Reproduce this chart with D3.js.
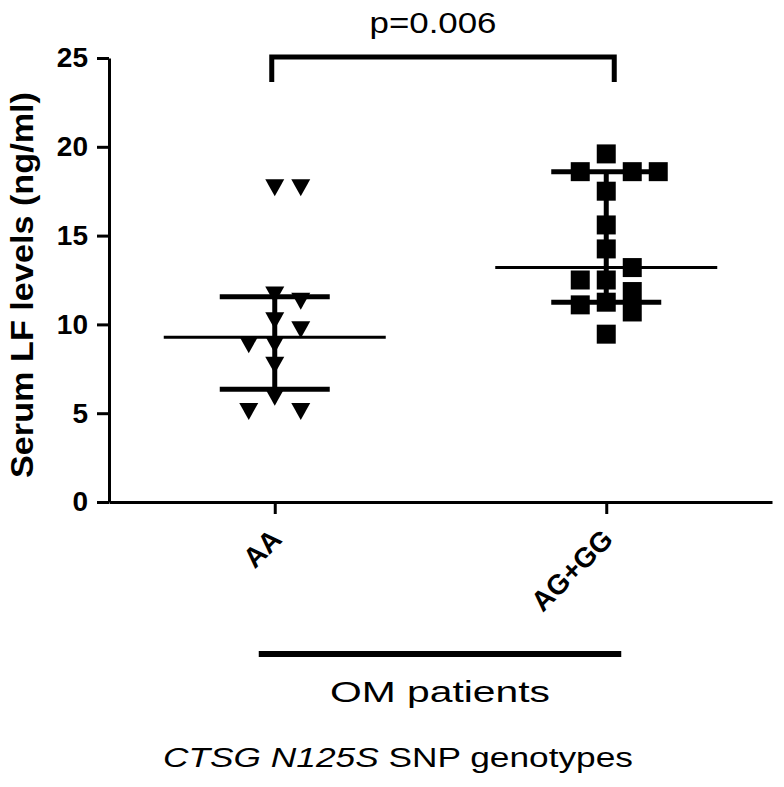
<!DOCTYPE html>
<html lang="en">
<head>
<meta charset="utf-8">
<title>Serum LF levels by CTSG N125S genotype</title>
<style>
body{
  margin: 0;
  background: #fff;
}
svg text{
  font-family: "Liberation Sans", Arial, sans-serif;
  fill: #000;
}
.axis path, .axis line{
  fill: none;
  stroke: #000;
  stroke-width: 3;
}
.axis text{
  font-size: 28px;
  font-weight: bold;
}
</style>
<script src="https://cdn.jsdelivr.net/npm/d3@7"></script>
</head>
<body>
<div id="chart"></div>

<script>
// genotype groups and serum LF values (ng/ml)
var groups = ["AA", "AG+GG"];
var aaValues = [17.7, 17.7, 11.65, 11.3, 10.2, 9.7, 8.85, 8.85, 7.7, 5.9, 5.1, 5.1];
var agggValues = [19.6, 18.6, 18.6, 18.6, 17.5, 15.6, 14.25, 13.2, 12.5, 12.5, 11.85, 11.25, 11.1, 10.7, 9.45];
var yTicks = [0, 5, 10, 15, 20, 25];
var pLabel = "p=0.006";
var yTitle = "Serum LF levels (ng/ml)";
var groupTitle = "OM patients";

var width = 784, height = 787;

var svg = d3.select('#chart').append('svg')
  .attr('width', width)
  .attr('height', height);

var x = d3.scalePoint()
  .domain(groups)
  .range([109, 772])
  .padding(0.5);

var y = d3.scaleLinear()
  .domain([0, 25])
  .range([502, 58]);

// Prism style quartiles, (n+1)p rank
function quart(vals, p) {
  var s = vals.slice().sort(d3.ascending);
  var r = (s.length + 1) * p - 1;
  var lo = Math.floor(r), f = r - lo;
  if (lo < 0) return s[0];
  if (lo >= s.length - 1) return s[s.length - 1];
  return s[lo] + f * (s[lo + 1] - s[lo]);
}

// greedy column scatter: shift a point sideways until it no longer overlaps
function swarm(vals) {
  var placed = [], step = 13, minDx = 26, minDy = 20;
  return vals.map(function(v, i) {
    var py = y(v), sign = i % 2 ? 1 : -1;
    for (var k = 0; k < 20; k++) {
      var off = k === 0 ? 0 : (k % 2 ? sign : -sign) * Math.ceil(k / 2) * step;
      var hit = placed.some(function(p) {
        return Math.abs(p.dx - off) < minDx && Math.abs(p.py - py) < minDy;
      });
      if (!hit) break;
    }
    placed.push({dx: off, py: py});
    return off;
  });
}

var series = [
  {name: "AA", values: aaValues, shape: "tri"},
  {name: "AG+GG", values: agggValues, shape: "sq"}
];

var tri = "M-9.5,-8.5L9.5,-8.5L0,8.5Z";
var sq = d3.symbol().type(d3.symbolSquare).size(19 * 19)();

series.forEach(function(s) {
  var cx = x(s.name);
  var offs = swarm(s.values);
  var g = svg.append('g');

  g.selectAll('path.pt')
    .data(s.values)
    .enter().append('path')
    .attr('class', 'pt')
    .attr('d', s.shape === "tri" ? tri : sq)
    .attr('transform', function(d, i) { return 'translate(' + (cx + offs[i]) + ',' + y(d) + ')'; })
    .style('fill', '#000');

  var med = d3.median(s.values), q1 = quart(s.values, 0.25), q3 = quart(s.values, 0.75);

  // median line
  g.append('line')
    .attr('x1', cx - 111).attr('x2', cx + 111)
    .attr('y1', y(med)).attr('y2', y(med))
    .style('stroke', '#000').style('stroke-width', 3);
  // interquartile bar
  g.append('line')
    .attr('x1', cx).attr('x2', cx)
    .attr('y1', y(q1)).attr('y2', y(q3))
    .style('stroke', '#000').style('stroke-width', 5);
  [q1, q3].forEach(function(q) {
    g.append('line')
      .attr('x1', cx - 55).attr('x2', cx + 55)
      .attr('y1', y(q)).attr('y2', y(q))
      .style('stroke', '#000').style('stroke-width', 5);
  });
});

// axes
svg.append('g')
  .attr('class', 'axis')
  .attr('transform', 'translate(109,0)')
  .call(d3.axisLeft(y).tickValues(yTicks).tickSize(12).tickSizeOuter(0).tickPadding(9));

var xAxis = svg.append('g')
  .attr('class', 'axis')
  .attr('transform', 'translate(0,502)')
  .call(d3.axisBottom(x).tickSize(12).tickSizeOuter(0));

xAxis.selectAll('text')
  .attr('x', 0).attr('y', 0).attr('dy', null)
  .attr('transform', 'translate(8,39) rotate(-45)')
  .style('text-anchor', 'end');

// y title
svg.append('text')
  .attr('transform', 'translate(33,285) rotate(-90)')
  .style('text-anchor', 'middle')
  .style('font-size', '31px')
  .style('font-weight', 'bold')
  .attr('textLength', 386)
  .attr('lengthAdjust', 'spacingAndGlyphs')
  .text(yTitle);

// significance bracket
var bx1 = x("AA") - 3, bx2 = x("AG+GG") + 8;
svg.append('path')
  .attr('d', 'M' + bx1 + ',82V57H' + bx2 + 'V82')
  .style('fill', 'none')
  .style('stroke', '#000')
  .style('stroke-width', 5);

svg.append('text')
  .attr('x', (bx1 + bx2) / 2 - 10)
  .attr('y', 33)
  .style('text-anchor', 'middle')
  .style('font-size', '29px')
  .attr('textLength', 127)
  .attr('lengthAdjust', 'spacingAndGlyphs')
  .text(pLabel);

// group bar under the genotypes
svg.append('line')
  .attr('x1', x("AA") - 16).attr('x2', x("AG+GG") + 15)
  .attr('y1', 654).attr('y2', 654)
  .style('stroke', '#000').style('stroke-width', 6);

svg.append('text')
  .attr('x', 440)
  .attr('y', 702)
  .style('text-anchor', 'middle')
  .style('font-size', '30px')
  .attr('textLength', 220)
  .attr('lengthAdjust', 'spacingAndGlyphs')
  .text(groupTitle);

var foot = svg.append('text')
  .attr('x', 398)
  .attr('y', 767)
  .style('text-anchor', 'middle')
  .style('font-size', '27px')
  .attr('textLength', 470)
  .attr('lengthAdjust', 'spacingAndGlyphs');
foot.append('tspan').style('font-style', 'italic').text('CTSG N125S');
foot.append('tspan').text(' SNP genotypes');
</script>
</body>
</html>
